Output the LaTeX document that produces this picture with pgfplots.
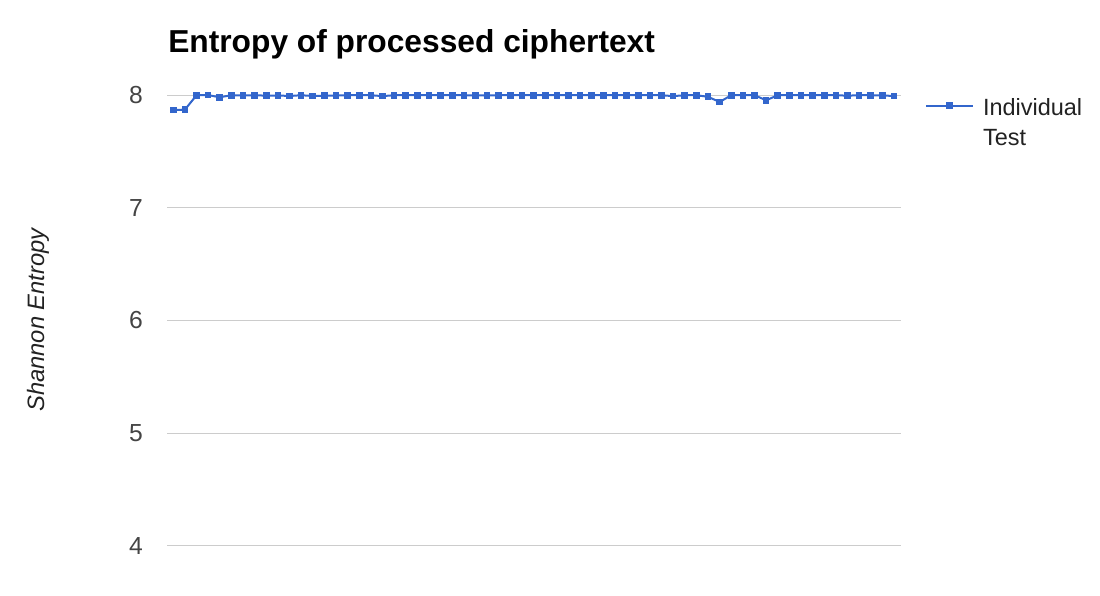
\documentclass[border=0pt]{standalone}
\usepackage{fontspec}
\setmainfont{Liberation Sans}
\usepackage{pgfplots}
\pgfplotsset{compat=1.18}
\definecolor{gblue}{HTML}{3366CC}
\definecolor{gridc}{HTML}{CCCCCC}
\definecolor{tickc}{HTML}{444444}
\definecolor{txtc}{HTML}{222222}
\begin{document}
\begin{tikzpicture}[x=0.75pt,y=0.75pt]
\path[use as bounding box] (0,0) rectangle (1100,596);
\begin{axis}[
 at={(125.25pt,37.5pt)}, anchor=south west,
 scale only axis, width=550.5pt, height=338.25pt,
 xmin=0.46, xmax=63.6, ymin=4, ymax=8,
 clip=false,
 axis line style={draw=none},
 xtick=\empty, ytick={4,5,6,7,8},
 major tick length=0pt,
 ymajorgrids, grid style={gridc, line width=0.75pt},
 yticklabel style={font=\fontsize{18.5}{18.5}\selectfont, text=tickc, inner sep=0pt, xshift=-18pt},
 /pgf/number format/assume math mode=true,
 legend style={draw=none, fill=none, inner sep=0pt, outer sep=0pt,
   at={(1.0327,1.0075)}, anchor=north west,
   font=\fontsize{17.6}{22.5}\selectfont, text=txtc},
 legend cell align=left,
 legend image code/.code={\draw[#1, mark repeat=2, mark phase=2] plot coordinates {(0pt,0pt) (17.6pt,0pt) (35.25pt,0pt)}; \path (40pt,0pt);},
]
\addplot[gblue, line width=1.5pt, mark=square*, mark size=1.75pt, mark options={solid}] coordinates {
(1,7.867) (2,7.870) (3,7.998) (4,7.999) (5,7.980) (6,7.998) (7,7.996) (8,7.998) (9,7.994) (10,7.996)
(11,7.991) (12,7.998) (13,7.991) (14,7.994) (15,7.996) (16,7.998) (17,7.998) (18,7.998) (19,7.990) (20,7.998)
(21,7.998) (22,7.998) (23,7.998) (24,7.998) (25,7.998) (26,7.998) (27,7.997) (28,7.995) (29,7.998) (30,7.998)
(31,7.998) (32,7.998) (33,7.998) (34,7.998) (35,7.998) (36,7.998) (37,7.998) (38,7.998) (39,7.998) (40,7.998)
(41,7.998) (42,7.998) (43,7.998) (44,7.990) (45,7.998) (46,7.998) (47,7.984) (48,7.938) (49,7.998) (50,7.998)
(51,7.998) (52,7.953) (53,7.998) (54,7.998) (55,7.998) (56,7.998) (57,7.998) (58,7.998) (59,7.994) (60,7.998)
(61,7.998) (62,7.996) (63,7.991)
};
\addlegendentry{\begin{tabular}[t]{@{}l@{}}Individual\\Test\end{tabular}}
\end{axis}
\node[anchor=base west, inner sep=0pt, font=\fontsize{23.8}{23.8}\selectfont\bfseries] at (168,543) {Entropy of processed ciphertext};
\node[rotate=90, anchor=base, inner sep=0pt, font=\fontsize{17.8}{17.8}\selectfont\itshape, text=txtc] at (44,276) {Shannon Entropy};
\end{tikzpicture}
\end{document}
